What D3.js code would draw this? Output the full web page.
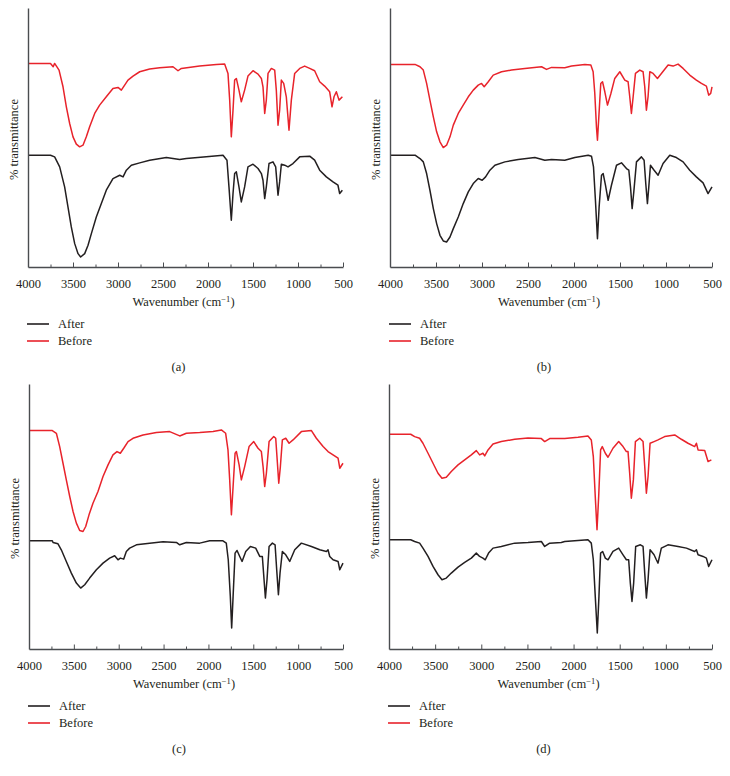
<!DOCTYPE html>
<html>
<head>
<meta charset="utf-8">
<script src="https://cdn.jsdelivr.net/npm/d3@7"></script>
<style>
  body { margin: 0; background: #fff; }
  svg text { font-family: "Liberation Serif", "DejaVu Serif", serif; fill: #231f20; }
</style>
</head>
<body>
<div id="chart"></div>
<script>
// wavenumber (cm-1) vs transmittance (arbitrary units)
const beforeA = [[4000,61.0],[3750,61.0],[3720,60.0],[3704,61.0],[3655,59.0],[3611,54.0],[3574,48.0],[3537,43.0],[3500,39.0],[3463,36.8],[3426,36.0],[3389,36.5],[3352,39.0],[3315,42.0],[3259,46.0],[3204,48.5],[3130,51.0],[3056,53.5],[3000,53.8],[2963,53.0],[2926,54.5],[2889,56.0],[2833,57.2],[2759,58.5],[2648,59.3],[2537,59.7],[2389,60.0],[2333,58.8],[2296,59.5],[2093,60.2],[1907,60.7],[1815,60.8],[1778,58.0],[1759,50.0],[1741,39.0],[1722,47.0],[1704,56.0],[1685,56.5],[1656,53.0],[1630,49.5],[1593,53.0],[1556,57.2],[1500,58.8],[1444,57.8],[1407,56.5],[1389,54.0],[1370,46.0],[1352,50.0],[1333,58.0],[1296,59.5],[1259,59.0],[1241,53.0],[1222,42.5],[1204,47.0],[1185,56.0],[1159,55.0],[1130,51.0],[1100,41.0],[1074,50.0],[1037,58.0],[981,59.5],[926,60.2],[870,59.5],[815,58.8],[759,55.5],[704,54.2],[648,52.5],[622,48.0],[600,51.0],[574,52.5],[544,50.0],[507,51.0]];
const afterA = [[4000,33.5],[3750,33.5],[3704,33.0],[3648,30.0],[3593,24.0],[3556,18.0],[3519,12.0],[3481,7.0],[3444,4.0],[3415,3.0],[3370,4.0],[3333,6.5],[3296,10.0],[3241,15.0],[3185,19.0],[3130,23.0],[3056,26.5],[2981,27.5],[2944,27.0],[2907,29.0],[2852,30.5],[2759,31.2],[2648,32.0],[2463,32.8],[2315,32.2],[2241,32.5],[2019,33.0],[1833,33.5],[1789,32.0],[1767,24.0],[1741,14.0],[1722,22.0],[1704,28.0],[1685,28.5],[1656,24.0],[1630,19.5],[1593,24.0],[1556,30.0],[1500,30.8],[1444,29.5],[1407,28.0],[1389,26.0],[1370,20.5],[1352,24.0],[1322,31.0],[1278,31.5],[1248,30.0],[1222,21.5],[1204,25.5],[1185,30.8],[1148,30.5],[1111,30.0],[1056,31.0],[981,33.0],[870,33.2],[815,32.0],[759,29.0],[685,27.0],[611,25.5],[556,24.5],[537,22.0],[507,23.0]];

const beforeB = [[4000,60.7],[3728,60.7],[3674,60.0],[3638,59.0],[3602,55.0],[3566,50.0],[3529,45.0],[3493,40.5],[3457,37.5],[3421,35.8],[3385,36.5],[3348,39.0],[3312,42.5],[3258,46.0],[3204,48.5],[3149,51.0],[3095,53.0],[3041,54.5],[3005,55.0],[2976,54.0],[2932,55.5],[2878,57.5],[2787,58.5],[2679,59.0],[2534,59.5],[2353,60.0],[2299,59.2],[2244,59.8],[2100,59.7],[2027,60.2],[1882,60.7],[1817,60.5],[1792,58.5],[1774,52.0],[1756,42.0],[1745,38.0],[1730,45.0],[1709,55.0],[1690,55.5],[1665,52.5],[1636,48.5],[1599,52.0],[1557,56.5],[1502,58.5],[1448,56.0],[1412,55.5],[1394,51.0],[1376,46.0],[1357,51.0],[1332,58.0],[1285,59.0],[1249,58.5],[1231,54.0],[1213,47.0],[1195,51.0],[1176,58.5],[1140,58.0],[1093,56.5],[1050,58.0],[977,60.5],[923,60.2],[869,60.8],[814,59.5],[742,57.5],[670,56.0],[615,55.0],[561,54.2],[536,51.5],[514,52.0],[500,54.0]];
const afterB = [[4000,33.5],[3728,33.5],[3674,32.5],[3638,31.5],[3602,28.0],[3566,23.0],[3529,17.5],[3493,13.0],[3457,9.5],[3421,7.8],[3385,7.5],[3348,9.0],[3312,11.5],[3258,15.0],[3204,19.0],[3149,22.5],[3095,25.0],[3041,26.5],[2998,26.0],[2961,27.0],[2914,29.0],[2860,30.5],[2751,31.5],[2606,32.2],[2425,32.8],[2317,32.0],[2244,32.2],[2100,32.0],[1991,32.8],[1846,33.5],[1810,33.2],[1788,30.0],[1767,20.0],[1745,8.5],[1727,18.0],[1701,27.5],[1683,28.0],[1658,24.5],[1629,20.0],[1593,24.5],[1538,30.5],[1484,31.2],[1430,29.5],[1404,29.0],[1386,24.0],[1368,17.5],[1350,22.5],[1321,31.5],[1267,33.0],[1238,32.0],[1220,25.0],[1202,19.0],[1187,24.0],[1169,30.5],[1129,29.0],[1086,27.5],[1032,31.0],[959,33.5],[887,32.8],[814,31.5],[742,29.0],[670,27.0],[597,25.2],[543,22.0],[500,24.0]];

const beforeC = [[4000,65.6],[3740,65.6],[3695,64.8],[3658,60.8],[3621,55.8],[3584,50.8],[3546,45.8],[3509,41.3],[3472,37.8],[3435,35.6],[3398,35.3],[3368,36.8],[3331,40.3],[3287,43.8],[3231,47.3],[3175,51.8],[3119,55.3],[3064,58.3],[3019,59.3],[2982,58.8],[2944,60.3],[2896,62.3],[2841,63.3],[2729,64.3],[2580,65.0],[2432,65.3],[2320,64.0],[2246,64.8],[2097,65.0],[1949,65.3],[1856,65.8],[1808,64.8],[1782,59.8],[1763,50.8],[1744,40.3],[1725,48.8],[1703,58.8],[1688,59.3],[1658,55.3],[1633,50.8],[1596,54.8],[1547,60.8],[1495,62.3],[1447,60.3],[1410,59.3],[1391,54.8],[1373,48.8],[1354,52.8],[1324,62.3],[1272,63.8],[1250,63.3],[1231,55.8],[1216,49.8],[1198,54.8],[1176,62.8],[1138,63.3],[1101,61.8],[1057,62.8],[964,65.3],[852,65.6],[797,63.3],[722,60.8],[667,59.3],[611,58.3],[555,57.3],[536,54.3],[500,55.8]];
const afterC = [[4000,32.5],[3740,32.5],[3732,32.0],[3677,31.6],[3640,29.8],[3584,26.3],[3528,22.8],[3472,19.8],[3424,18.3],[3379,19.3],[3324,21.3],[3249,23.8],[3175,25.8],[3101,27.3],[3045,28.0],[3008,26.8],[2982,27.3],[2944,27.0],[2915,29.3],[2878,30.3],[2803,31.3],[2655,31.8],[2506,32.2],[2357,32.0],[2320,31.3],[2246,32.0],[2097,31.8],[1986,32.5],[1838,32.5],[1801,31.8],[1779,26.8],[1756,15.8],[1741,6.3],[1725,15.8],[1703,28.8],[1681,29.6],[1651,27.8],[1625,26.3],[1584,29.3],[1532,30.8],[1473,30.3],[1428,27.8],[1399,27.8],[1380,20.8],[1365,15.3],[1347,20.8],[1324,30.8],[1287,31.8],[1257,31.3],[1239,23.8],[1220,16.3],[1202,22.8],[1176,29.3],[1138,28.3],[1094,26.3],[1038,29.8],[964,31.8],[852,30.8],[759,29.8],[685,29.3],[667,29.8],[648,27.8],[611,26.8],[555,26.3],[536,23.8],[500,25.8]];

const beforeD = [[4000,64.5],[3765,64.5],[3722,63.8],[3668,63.3],[3632,61.8],[3577,58.8],[3523,55.8],[3469,52.8],[3426,51.3],[3379,51.6],[3325,53.3],[3252,55.3],[3180,56.8],[3108,58.3],[3054,59.6],[3018,58.3],[2982,58.8],[2963,58.0],[2927,59.8],[2873,61.6],[2783,62.3],[2638,63.0],[2494,63.4],[2349,63.2],[2313,62.3],[2259,63.2],[2096,63.2],[1952,63.6],[1844,64.0],[1808,62.8],[1786,57.8],[1765,45.8],[1746,35.8],[1728,45.8],[1707,59.8],[1689,60.8],[1656,58.8],[1627,57.6],[1573,60.3],[1511,62.3],[1464,60.8],[1428,59.3],[1410,59.3],[1392,52.8],[1374,45.3],[1352,50.8],[1330,62.3],[1283,63.3],[1247,62.3],[1229,54.8],[1211,46.8],[1193,51.8],[1171,61.8],[1128,62.3],[1085,62.8],[1013,63.8],[904,64.3],[832,63.0],[760,61.8],[688,60.8],[669,61.8],[651,59.8],[579,59.6],[543,56.3],[507,56.8]];
const afterD = [[4000,32.8],[3765,32.8],[3722,32.3],[3668,31.8],[3632,30.3],[3577,27.8],[3523,24.8],[3469,22.3],[3426,20.8],[3379,21.3],[3325,22.8],[3252,24.6],[3180,26.0],[3108,27.3],[3054,28.8],[3018,27.8],[2982,27.3],[2957,26.8],[2921,28.8],[2873,30.3],[2783,30.8],[2638,31.8],[2494,32.0],[2349,32.3],[2313,30.8],[2259,31.8],[2133,32.0],[2096,32.3],[1952,32.6],[1844,32.8],[1808,31.8],[1786,26.8],[1765,15.8],[1743,4.8],[1725,15.8],[1707,28.8],[1685,29.3],[1656,27.3],[1627,26.8],[1573,29.3],[1511,30.3],[1464,28.3],[1428,26.8],[1403,26.8],[1385,19.8],[1367,14.3],[1349,19.8],[1327,30.8],[1276,31.3],[1247,30.8],[1229,22.8],[1211,15.3],[1193,20.8],[1171,29.8],[1128,28.3],[1103,26.8],[1085,25.8],[1049,30.3],[977,31.3],[868,30.8],[777,30.3],[688,29.3],[669,29.8],[651,28.3],[597,27.8],[561,27.3],[536,24.8],[500,26.8]];

const majorTicks = [4000, 3500, 3000, 2500, 2000, 1500, 1000, 500];
const minorTicks = [3750, 3250, 2750, 2250, 1750, 1250, 750];
const seriesNames = ["After", "Before"];
const panelLabels = ["(a)", "(b)", "(c)", "(d)"];

const colors = { After: "#231f20", Before: "#e8232b" };

// panel boxes (left, right, top, bottom) and y extent
const panels = [
  { label: panelLabels[0], after: afterA, before: beforeA, x0: 28,  x1: 343, top: 8,   bottom: 267, ymax: 77.6 },
  { label: panelLabels[1], after: afterB, before: beforeB, x0: 390, x1: 712, top: 8,   bottom: 267, ymax: 77.6 },
  { label: panelLabels[2], after: afterC, before: beforeC, x0: 29,  x1: 343, top: 384, bottom: 649, ymax: 79.6 },
  { label: panelLabels[3], after: afterD, before: beforeD, x0: 389, x1: 712, top: 384, bottom: 649, ymax: 79.6 }
];

const svg = d3.select("#chart").append("svg")
    .attr("width", 730)
    .attr("height", 776);

const drawPanel = function(p) {
    const x = d3.scaleLinear().domain([4000, 500]).range([p.x0, p.x1]);
    const y = d3.scaleLinear().domain([0, p.ymax]).range([p.bottom, p.top]);
    const g = svg.append("g");

    const line = d3.line()
        .x(d => x(d[0]))
        .y(d => y(d[1]));

    g.append("path").datum(p.before)
        .attr("d", line)
        .attr("fill", "none")
        .attr("stroke", colors.Before)
        .attr("stroke-width", 1.5)
        .attr("stroke-linejoin", "round");

    g.append("path").datum(p.after)
        .attr("d", line)
        .attr("fill", "none")
        .attr("stroke", colors.After)
        .attr("stroke-width", 1.5)
        .attr("stroke-linejoin", "round");

    // left axis: plain line, no ticks
    const yAxis = g.append("g")
        .attr("transform", "translate(" + p.x0 + ",0)")
        .call(d3.axisLeft(y).tickValues([]).tickSizeOuter(0));
    yAxis.select(".domain").attr("stroke", "#4a4d50").attr("stroke-width", 1.4);

    // bottom axis, ticks pointing inward
    const minor = g.append("g")
        .attr("transform", "translate(0," + p.bottom + ")")
        .call(d3.axisBottom(x).tickValues(minorTicks).tickSizeInner(-2.5).tickSizeOuter(0).tickFormat(""));
    minor.select(".domain").remove();
    minor.selectAll("line").attr("stroke", "#4a4d50");

    const major = g.append("g")
        .attr("transform", "translate(0," + p.bottom + ")")
        .call(d3.axisBottom(x).tickValues(majorTicks).tickSizeInner(-4.5).tickSizeOuter(0).tickPadding(12).tickFormat(d3.format("d")));
    major.select(".domain").attr("stroke", "#4a4d50").attr("stroke-width", 1.4);
    major.selectAll("line").attr("stroke", "#4a4d50");
    major.selectAll("text")
        .style("font-family", "'Liberation Serif', serif")
        .style("font-size", "12.5px")
        .attr("fill", "#231f20");

    // axis titles
    const xt = g.append("text")
        .attr("x", (p.x0 + p.x1) / 2 - 2)
        .attr("y", p.bottom + 39)
        .attr("text-anchor", "middle")
        .style("font-size", "12.5px");
    xt.append("tspan").text("Wavenumber (cm");
    xt.append("tspan").text("\u22121").attr("dy", -4.5).style("font-size", "8.5px");
    xt.append("tspan").text(")").attr("dy", 4.5);

    g.append("text")
        .attr("transform", "translate(" + (p.x0 - 10) + "," + ((p.top + p.bottom) / 2 + 2) + ") rotate(-90)")
        .attr("text-anchor", "middle")
        .style("font-size", "12.5px")
        .text("% transmittance");

    // legend
    seriesNames.forEach((name, i) => {
        const ly = p.bottom + 57 + i * 17;
        g.append("line")
            .attr("x1", p.x0 - 1).attr("x2", p.x0 + 21)
            .attr("y1", ly).attr("y2", ly)
            .attr("stroke", colors[name])
            .attr("stroke-width", 1.6);
        g.append("text")
            .attr("x", p.x0 + 30)
            .attr("y", ly + 4)
            .style("font-size", "12.5px")
            .text(name);
    });

    // panel label
    g.append("text")
        .attr("x", (p.x0 + p.x1) / 2 - 7)
        .attr("y", p.bottom + 104)
        .attr("text-anchor", "middle")
        .style("font-size", "12.5px")
        .text(p.label);
};

panels.forEach(drawPanel);
</script>
</body>
</html>
